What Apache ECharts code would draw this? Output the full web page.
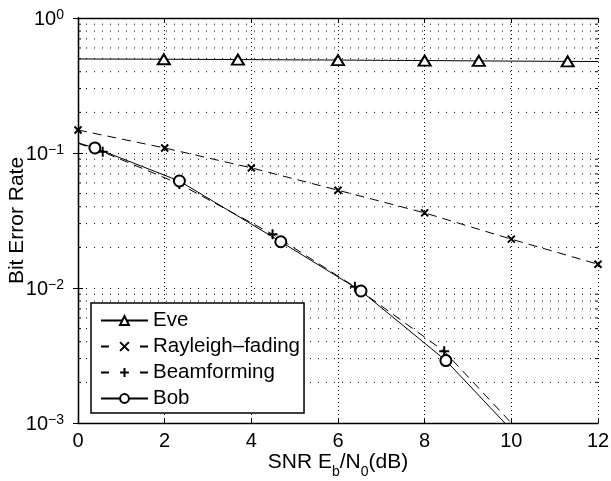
<!DOCTYPE html>
<html>
<head>
<meta charset="utf-8">
<script src="https://cdn.jsdelivr.net/npm/echarts@6/dist/echarts.min.js"></script>
<style>
  html, body { margin: 0; padding: 0; background: #fff; }
  #chart { width: 611px; height: 481px; }
</style>
</head>
<body>
<div id="chart"></div>
<script>
// values (x = SNR dB, y = BER)
const eveX = [0, 1.98, 3.69, 6.0, 8.0, 9.25, 11.3, 12];
const eveY = [0.497, 0.495, 0.492, 0.488, 0.484, 0.481, 0.477, 0.476];
const eveMark = [false, true, true, true, true, true, true, false];

const rayX = [0, 2, 4, 6, 8, 10, 12];
const rayY = [0.148, 0.109, 0.0776, 0.053, 0.036, 0.023, 0.015];

const beamX = [0, 0.57, 2.34, 4.49, 6.39, 8.45, 10.0];
const beamY = [0.118, 0.102, 0.059, 0.025, 0.0102, 0.0034, 0.001];
const beamMark = [false, true, true, true, true, true, false];

const bobX = [0, 0.39, 2.34, 4.68, 6.53, 8.49, 9.85];
const bobY = [0.119, 0.109, 0.062, 0.022, 0.0095, 0.0029, 0.001];
const bobMark = [false, true, true, true, true, true, false];

const minorY = [0.002, 0.003, 0.004, 0.005, 0.006, 0.007, 0.008, 0.009,
  0.02, 0.03, 0.04, 0.05, 0.06, 0.07, 0.08, 0.09,
  0.2, 0.3, 0.4, 0.5, 0.6, 0.7, 0.8, 0.9];

const FONT = 'Liberation Sans, Arial, Helvetica, sans-serif';
const dotted = [1, 7];

const pts = (xs, ys, marks) => xs.map((x, i) => {
  const item = { value: [x, ys[i]] };
  if (marks && !marks[i]) item.symbol = 'none';
  return item;
});

const chart = echarts.init(document.getElementById('chart'), null, { renderer: 'canvas' });

const axisCommon = {
  axisLine: { show: true, lineStyle: { color: '#000', width: 1.3 } },
  axisTick: { show: true, inside: true, length: 5, lineStyle: { color: '#000' } }
};

const option = {
  animation: false,
  backgroundColor: '#fff',
  grid: { left: 78, right: 13, top: 18, bottom: 58, show: false, containLabel: false, outerBoundsMode: 'none' },
  legend: {
    orient: 'vertical',
    left: 91,
    top: 303,
    padding: [7, 4, 4, 9],
    itemGap: 5,
    itemWidth: 47,
    itemHeight: 11,
    backgroundColor: '#fff',
    borderColor: '#000',
    borderWidth: 1.5,
    borderRadius: 0,
    textStyle: { fontSize: 20.5, color: '#000', fontFamily: FONT },
    data: [
      { name: 'Eve' },
      { name: 'Rayleigh–fading', lineStyle: { type: [8, 31] } },
      { name: 'Beamforming', lineStyle: { type: [8, 31] } },
      { name: 'Bob' }
    ]
  },
  xAxis: [
    Object.assign({
      type: 'value', min: 0, max: 12, interval: 2, position: 'bottom',
      name: 'SNR E{sub|b}/N{sub|0}(dB)',
      nameLocation: 'middle', nameGap: 22, nameMoveOverlap: false,
      nameTextStyle: {
        fontSize: 21, color: '#000', fontFamily: FONT,
        rich: {
          sub: { fontSize: 14, color: '#000', fontFamily: FONT, verticalAlign: 'bottom', lineHeight: 14 }
        },
        lineHeight: 34, verticalAlign: 'top'
      },
      axisLabel: { fontSize: 20, color: '#000', fontFamily: FONT, margin: 8 },
      splitLine: { show: true, lineStyle: { color: '#000', width: 1, type: [1, 3] } }
    }, axisCommon),
    Object.assign({
      type: 'value', min: 0, max: 12, interval: 2, position: 'top',
      axisLabel: { show: false }, splitLine: { show: false }
    }, axisCommon)
  ],
  yAxis: [
    Object.assign({
      type: 'log', logBase: 10, min: 0.001, max: 1, position: 'left',
      name: 'Bit Error Rate', nameLocation: 'middle', nameGap: 50, nameRotate: 90,
      nameMoveOverlap: false,
      nameTextStyle: { fontSize: 21, color: '#000', fontFamily: FONT },
      axisLabel: {
        margin: 14,
        formatter: v => {
          const e = Math.round(Math.log10(v));
          return '{b|10}{s|' + (e < 0 ? '−' + (-e) : e) + '}';
        },
        rich: {
          b: { fontSize: 20, color: '#000', fontFamily: FONT, lineHeight: 20, verticalAlign: 'middle', padding: [3, 0, 0, 0] },
          s: { fontSize: 14, color: '#000', fontFamily: FONT, lineHeight: 14, verticalAlign: 'top', padding: [0, 0, 19, 0] }
        }
      },
      splitLine: { show: true, lineStyle: { color: '#000', width: 1, type: dotted } }
    }, axisCommon),
    Object.assign({
      type: 'log', logBase: 10, min: 0.001, max: 1, position: 'right',
      axisLabel: { show: false }, splitLine: { show: false }
    }, axisCommon)
  ],
  series: [
    {
      name: 'minor',
      type: 'custom',
      silent: true,
      z: 1,
      data: minorY.map(v => [0, v]),
      renderItem: (params, api) => {
        const v = api.value(1);
        const a = api.coord([0, v]);
        const b = api.coord([12, v]);
        return {
          type: 'group',
          children: [
            { type: 'line', shape: { x1: a[0], y1: a[1], x2: b[0], y2: b[1] },
              style: { stroke: '#000', lineWidth: 1, lineDash: dotted } },
            { type: 'line', shape: { x1: a[0], y1: a[1], x2: a[0] + 3, y2: a[1] },
              style: { stroke: '#000', lineWidth: 1 } },
            { type: 'line', shape: { x1: b[0] - 3, y1: b[1], x2: b[0], y2: b[1] },
              style: { stroke: '#000', lineWidth: 1 } }
          ]
        };
      }
    },
    {
      name: 'Eve', type: 'line', z: 3,
      data: pts(eveX, eveY, eveMark),
      symbol: 'emptyTriangle', symbolSize: [12, 10],
      lineStyle: { color: '#000', width: 1 },
      itemStyle: { color: '#000', borderWidth: 1 }
    },
    {
      name: 'Rayleigh–fading', type: 'line', z: 3,
      data: pts(rayX, rayY),
      symbol: 'emptyPath://M0,0L10,10M10,0L0,10', symbolSize: 7,
      lineStyle: { color: '#000', width: 1, type: [9, 6] },
      itemStyle: { color: '#000', borderWidth: 1 }
    },
    {
      name: 'Beamforming', type: 'line', z: 3,
      data: pts(beamX, beamY, beamMark),
      symbol: 'emptyPath://M5,0L5,10M0,5L10,5', symbolSize: 10,
      lineStyle: { color: '#000', width: 1, type: [9, 6] },
      itemStyle: { color: '#000', borderWidth: 1 }
    },
    {
      name: 'Bob', type: 'line', z: 4,
      data: pts(bobX, bobY, bobMark),
      symbol: 'emptyCircle', symbolSize: 11,
      lineStyle: { color: '#000', width: 1 },
      itemStyle: { color: '#000', borderWidth: 1 }
    }
  ]
};

chart.setOption(option);
window.addEventListener('resize', () => chart.resize());
</script>
</body>
</html>
